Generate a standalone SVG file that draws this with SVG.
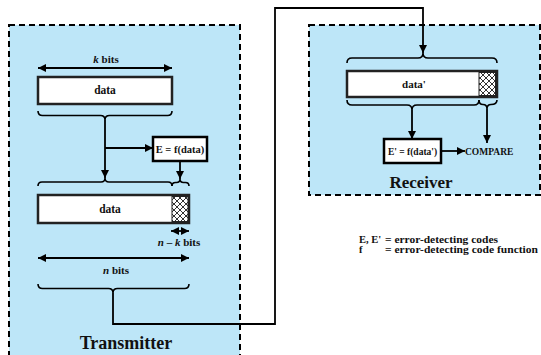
<svg xmlns="http://www.w3.org/2000/svg" width="541" height="355" viewBox="0 0 541 355">
<style>
.panel{fill:#bde6f8;stroke:#000;stroke-width:2;stroke-dasharray:6 4}
.box{fill:#fff;stroke:#222;stroke-width:2.5}
.ebox{fill:#fff;stroke:#000;stroke-width:2.5}
text{font-family:'Liberation Serif','DejaVu Serif','Times New Roman',serif;font-weight:bold;fill:#111}
.ln{fill:none;stroke:#000;stroke-width:1.8}
.br{fill:none;stroke:#000;stroke-width:1.6}
.hatch{fill:url(#hp);stroke:#222;stroke-width:1}
</style>
<defs>
<marker id="ah" viewBox="0 0 10 10" refX="10" refY="5" markerWidth="4.5" markerHeight="4.5" orient="auto-start-reverse" markerUnits="strokeWidth">
<path d="M0,0 L10,5 L0,10 z" fill="#000"/>
</marker>
<pattern id="hp" width="6" height="6" patternUnits="userSpaceOnUse">
<rect width="6" height="6" fill="#fff"/>
<path d="M0,0 L6,6 M6,0 L0,6" stroke="#000" stroke-width="0.8"/>
</pattern>
</defs>

<g id="transmitter">
<rect class="panel" x="9" y="25" width="231" height="340"/>
<text x="126" y="349" font-size="18" text-anchor="middle">Transmitter</text>
</g>

<g id="receiver">
<rect class="panel" x="309" y="25" width="231" height="170"/>
<text x="421" y="188" font-size="17" text-anchor="middle">Receiver</text>
</g>

<g id="k-bits">
<text x="106" y="63" font-size="11" text-anchor="middle"><tspan font-style="italic">k</tspan> bits</text>
</g>

<g id="data1">
<rect class="box" x="38" y="77" width="134" height="27"/>
<text x="105" y="94" font-size="11.5" text-anchor="middle">data</text>
</g>

<g id="e-box">
<rect class="ebox" x="153" y="137" width="54" height="24"/>
<text x="180" y="153" font-size="10.5" text-anchor="middle">E = f(data)</text>
</g>

<g id="data2">
<rect class="box" x="38" y="195" width="151" height="28"/>
<rect class="hatch" x="172" y="196.5" width="16" height="25"/>
<text x="110" y="213" font-size="11.5" text-anchor="middle">data</text>
</g>

<g id="nk-bits">
<text x="179" y="246" font-size="11" text-anchor="middle"><tspan font-style="italic">n</tspan> – <tspan font-style="italic">k</tspan> bits</text>
</g>

<g id="n-bits">
<text x="116" y="274" font-size="11" text-anchor="middle"><tspan font-style="italic">n</tspan> bits</text>
</g>

<g id="data-prime">
<rect class="box" x="347" y="71" width="150" height="26"/>
<rect class="hatch" x="479" y="72.5" width="16.5" height="23"/>
<text x="414" y="88" font-size="11" text-anchor="middle">data'</text>
</g>

<g id="e-prime-box">
<rect class="ebox" x="384" y="139" width="57" height="24"/>
<text x="412.5" y="155" font-size="9.5" text-anchor="middle">E' = f(data')</text>
</g>

<g id="compare">
<text x="465" y="155" font-size="9.5">COMPARE</text>
</g>

<g id="legend">
<text x="359" y="243" font-size="10.5">E, E'</text>
<text x="385" y="243" font-size="10.5" textLength="113" lengthAdjust="spacingAndGlyphs">= error-detecting codes</text>
<text x="359" y="253" font-size="10.5">f</text>
<text x="385" y="253" font-size="10.5" textLength="153" lengthAdjust="spacingAndGlyphs">= error-detecting code function</text>
</g>

<g id="connectors">
<line class="ln" x1="38" y1="68" x2="172" y2="68" marker-start="url(#ah)" marker-end="url(#ah)"/>
<line class="ln" x1="171" y1="231" x2="189" y2="231" marker-start="url(#ah)" marker-end="url(#ah)"/>
<line class="ln" x1="38" y1="258" x2="189" y2="258" marker-start="url(#ah)" marker-end="url(#ah)"/>
<path class="br" d="M38,111 Q38,115.5 42.5,115.5 L100.5,115.5 Q105,115.5 105,120 Q105,115.5 109.5,115.5 L167.5,115.5 Q172,115.5 172,111"/>
<path class="br" d="M38,186 Q38,182 42,182 L101,182 Q105,182 105,178 Q105,182 109,182 L168,182 Q172,182 172,186"/>
<path class="br" d="M172,186 Q172,182.5 175.5,182.5 L176.5,182.5 Q180,182.5 180,179 Q180,182.5 183.5,182.5 L185.5,182.5 Q189,182.5 189,186"/>
<path class="br" d="M38,284 Q38,288.5 42.5,288.5 L108.5,288.5 Q113,288.5 113,293 Q113,288.5 117.5,288.5 L184.5,288.5 Q189,288.5 189,284"/>
<path class="br" d="M347,63 Q347,58 352,58 L418,58 Q423,58 423,53 Q423,58 428,58 L492,58 Q497,58 497,63"/>
<path class="br" d="M347,100 Q347,105 352,105 L407,105 Q412,105 412,110 Q412,105 417,105 L474,105 Q479,105 479,100"/>
<path class="br" d="M479,100 Q479,104.5 483,104.5 Q487,104.5 487,109 Q487,104.5 491,104.5 Q497,104.5 497,100"/>
<line class="ln" x1="105" y1="120" x2="105" y2="178" marker-end="url(#ah)"/>
<line class="ln" x1="105" y1="148" x2="153" y2="148" marker-end="url(#ah)"/>
<line class="ln" x1="180" y1="161" x2="180" y2="179" marker-end="url(#ah)"/>
<polyline class="ln" points="113,293 113,324 275,324 275,8 423,8 423,53" marker-end="url(#ah)"/>
<line class="ln" x1="412" y1="110" x2="412" y2="139" marker-end="url(#ah)"/>
<line class="ln" x1="487" y1="109" x2="487" y2="143" marker-end="url(#ah)"/>
<line class="ln" x1="441" y1="151" x2="465" y2="151" marker-end="url(#ah)"/>
</g>
</svg>
